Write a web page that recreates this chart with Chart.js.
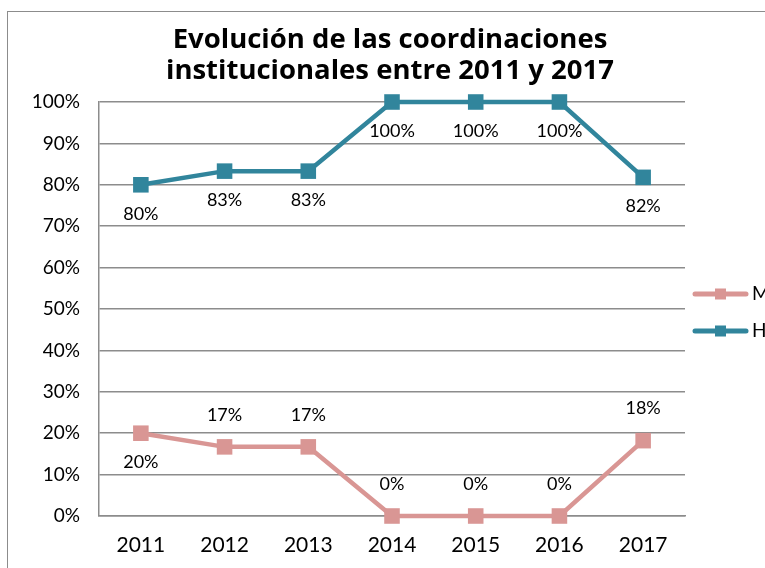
<!DOCTYPE html>
<html>
<head>
<meta charset="utf-8">
<script src="https://cdn.jsdelivr.net/npm/chart.js@4.4.1/dist/chart.umd.min.js"></script>
<style>
  html, body { margin: 0; padding: 0; background: #fff; overflow: hidden; width: 765px; height: 568px; }
  #wrap { position: absolute; left: 0; top: 0; width: 780px; height: 568px; }
  #frame { position: absolute; left: 7px; top: 11px; width: 900px; height: 700px; border: 1.5px solid #8c8c8c; box-sizing: border-box; }
  canvas { position: absolute; left: 0; top: 0; }
</style>
</head>
<body>
<div id="wrap">
  <div id="frame"></div>
  <canvas id="c" width="780" height="568"></canvas>
</div>
<script>
const categories = ['2011', '2012', '2013', '2014', '2015', '2016', '2017'];
const seriesNames = ['M', 'H'];
const valuesM = [0.20, 0.167, 0.167, 0, 0, 0, 0.182];
const valuesH = [0.80, 0.833, 0.833, 1.0, 1.0, 1.0, 0.818];
const labelsM = ['20%', '17%', '17%', '0%', '0%', '0%', '18%'];
const labelsH = ['80%', '83%', '83%', '100%', '100%', '100%', '82%'];
const titleLines = ['Evolución de las coordinaciones', 'institucionales entre 2011 y 2017'];

const FONT = 'Lato, "Open Sans", sans-serif';
const TITLE_FONT = '"Open Sans", Lato, sans-serif';
const colM = '#D99694';
const colH = '#31859C';
const gridCol = '#8c8c8c';

// per-dataset label placement (style only)
const labelSide = [
  ['below', 'above', 'above', 'above', 'above', 'above', 'above'],
  ['below', 'below', 'below', 'below', 'below', 'below', 'below']
];
const labelTexts = [labelsM, labelsH];

const dataLabelPlugin = {
  id: 'dataLabels',
  afterDatasetsDraw(chart) {
    const ctx = chart.ctx;
    ctx.save();
    ctx.font = '18px ' + FONT;
    ctx.fillStyle = '#000';
    ctx.textAlign = 'center';
    ctx.textBaseline = 'middle';
    chart.data.datasets.forEach((ds, di) => {
      const meta = chart.getDatasetMeta(di);
      meta.data.forEach((pt, i) => {
        const side = labelSide[di][i];
        const dy = side === 'below' ? 29 : -32;
        ctx.fillText(labelTexts[di][i], pt.x, pt.y + dy);
      });
    });
    ctx.restore();
  }
};

const legendPlugin = {
  id: 'sideLegend',
  afterDraw(chart) {
    const ctx = chart.ctx;
    ctx.save();
    const rows = [294, 331];
    chart.data.datasets.forEach((ds, di) => {
      const y = rows[di];
      ctx.strokeStyle = ds.borderColor;
      ctx.lineWidth = 5;
      ctx.lineCap = 'round';
      ctx.beginPath();
      ctx.moveTo(695, y);
      ctx.lineTo(746, y);
      ctx.stroke();
      ctx.fillStyle = ds.borderColor;
      ctx.fillRect(715, y - 5.5, 11, 11);
      ctx.fillStyle = '#000';
      ctx.font = '19px ' + FONT;
      ctx.textAlign = 'left';
      ctx.textBaseline = 'middle';
      ctx.fillText(ds.label, 752, y);
    });
    ctx.restore();
  }
};

new Chart(document.getElementById('c'), {
  type: 'line',
  data: {
    labels: categories,
    datasets: [
      {
        label: seriesNames[0], data: valuesM,
        borderColor: colM, backgroundColor: colM,
        borderWidth: 4.5, pointStyle: 'rect', pointRadius: 11, pointBorderWidth: 0,
        pointBackgroundColor: colM, tension: 0, clip: false
      },
      {
        label: seriesNames[1], data: valuesH,
        borderColor: colH, backgroundColor: colH,
        borderWidth: 4.5, pointStyle: 'rect', pointRadius: 11, pointBorderWidth: 0,
        pointBackgroundColor: colH, tension: 0, clip: false
      }
    ]
  },
  options: {
    responsive: false,
    animation: false,
    devicePixelRatio: 1,
    layout: { padding: { left: 0, right: 0, top: 0, bottom: 0 } },
    plugins: {
      legend: { display: false },
      tooltip: { enabled: false },
      title: {
        display: true,
        text: titleLines,
        color: '#000',
        font: { family: TITLE_FONT, size: 27.5, weight: 'bold', lineHeight: '31px' },
        padding: { top: 25, bottom: 15 }
      }
    },
    scales: {
      x: {
        offset: true,
        grid: { display: false, drawTicks: false },
        border: { display: true, color: gridCol, width: 1.5 },
        afterFit(scale) { scale.height = 52; },
        ticks: { color: '#000', font: { family: FONT, size: 21 }, padding: 17, maxRotation: 0 }
      },
      y: {
        min: 0, max: 1,
        grid: { color: gridCol, lineWidth: 1.5, drawTicks: false },
        border: { display: true, color: gridCol, width: 1.5 },
        afterFit(scale) { scale.width = 99; },
        ticks: {
          stepSize: 0.1,
          color: '#000',
          font: { family: FONT, size: 19 },
          padding: 19,
          callback: v => Math.round(v * 100) + '%'
        }
      },
      legendSpace: {
        type: 'linear',
        position: 'right',
        display: true,
        min: 0, max: 1,
        grid: { display: false, drawTicks: false },
        border: { display: false },
        ticks: { display: false },
        afterFit(scale) { scale.width = 95; }
      }
    }
  },
  plugins: [dataLabelPlugin, legendPlugin]
});
</script>
</body>
</html>
